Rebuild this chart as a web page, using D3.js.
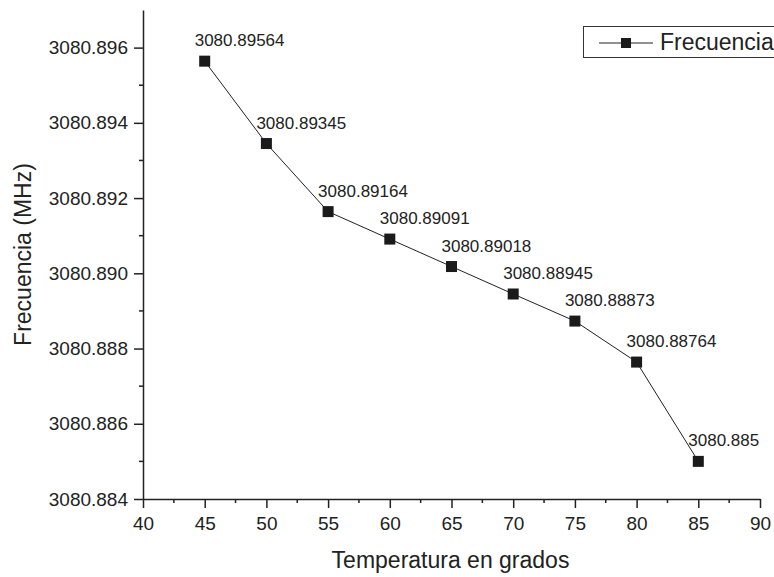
<!DOCTYPE html>
<html>
<head>
<meta charset="utf-8">
<script src="https://cdn.jsdelivr.net/npm/d3@7"></script>
<style>
  body { margin: 0; background: #fff; }
  svg text { font-family: Arial, "Liberation Sans", sans-serif; fill: #222; }
</style>
</head>
<body>
<div id="chart"></div>
<script>
// temperatures (x) and measured frequency (MHz)
var temps = [45, 50, 55, 60, 65, 70, 75, 80, 85];
var freqs = [3080.89564, 3080.89345, 3080.89164, 3080.89091, 3080.89018, 3080.88945, 3080.88873, 3080.88764, 3080.885];
var labels = ['3080.89564', '3080.89345', '3080.89164', '3080.89091', '3080.89018', '3080.88945', '3080.88873', '3080.88764', '3080.885'];
var xTicks = [40, 45, 50, 55, 60, 65, 70, 75, 80, 85, 90];
var yTicks = [3080.884, 3080.886, 3080.888, 3080.890, 3080.892, 3080.894, 3080.896];

var width = 774, height = 577;
var margin = {top: 10, right: 14, bottom: 78, left: 143};

var svg = d3.select('#chart').append('svg')
  .attr('width', width)
  .attr('height', height);

var x = d3.scaleLinear().domain([40, 90]).range([margin.left, width - margin.right]);
var y = d3.scaleLinear().domain([3080.884, 3080.897]).range([height - margin.bottom, margin.top]);

// minor ticks (halfway)
var xMinor = d3.range(42.5, 90, 5);
var yMinor = d3.range(3080.885, 3080.897, 0.002);

// x axis
var gx = svg.append('g').attr('transform', 'translate(0,' + (height - margin.bottom) + ')');
gx.call(d3.axisBottom(x).tickValues(xTicks).tickSize(9).tickSizeOuter(0).tickFormat(d3.format('d')));
gx.selectAll('.tick text').attr('y', 31).attr('dy', null).style('font-size', '19px');
gx.append('g').selectAll('line').data(xMinor).enter().append('line')
  .attr('x1', function(d) { return x(d); }).attr('x2', function(d) { return x(d); })
  .attr('y1', 0).attr('y2', 4).attr('stroke', '#222').attr('stroke-width', 1.5);

// y axis
var gy = svg.append('g').attr('transform', 'translate(' + margin.left + ',0)');
gy.call(d3.axisLeft(y).tickValues(yTicks).tickSize(9).tickSizeOuter(0).tickFormat(d3.format('.3f')));
gy.selectAll('.tick text').attr('x', -15).style('font-size', '19px');
gy.append('g').selectAll('line').data(yMinor).enter().append('line')
  .attr('y1', function(d) { return y(d); }).attr('y2', function(d) { return y(d); })
  .attr('x1', 0).attr('x2', -4).attr('stroke', '#222').attr('stroke-width', 1.5);

svg.selectAll('.domain, .tick line').attr('stroke', '#222').attr('stroke-width', 1.5);

// axis titles
svg.append('text')
  .attr('x', (margin.left + width - margin.right) / 2 - 1)
  .attr('y', 568)
  .attr('text-anchor', 'middle')
  .style('font-size', '23px')
  .text('Temperatura en grados');

svg.append('text')
  .attr('transform', 'translate(31,' + ((margin.top + height - margin.bottom) / 2) + ') rotate(-90)')
  .attr('text-anchor', 'middle')
  .style('font-size', '23px')
  .text('Frecuencia (MHz)');

// line
var line = d3.line()
  .x(function(d, i) { return x(temps[i]); })
  .y(function(d) { return y(d); });

svg.append('path')
  .datum(freqs)
  .attr('d', line)
  .attr('fill', 'none')
  .attr('stroke', '#222')
  .attr('stroke-width', 1);

// markers
var ms = 11;
svg.selectAll('.pt')
  .data(freqs)
  .enter().append('rect')
  .attr('class', 'pt')
  .attr('x', function(d, i) { return x(temps[i]) - ms / 2; })
  .attr('y', function(d) { return y(d) - ms / 2; })
  .attr('width', ms)
  .attr('height', ms)
  .attr('fill', '#1a1a1a');

// data labels
svg.selectAll('.lbl')
  .data(freqs)
  .enter().append('text')
  .attr('class', 'lbl')
  .attr('x', function(d, i) { return x(temps[i]) - 10; })
  .attr('y', function(d) { return y(d) - 15; })
  .style('font-size', '17px')
  .text(function(d, i) { return labels[i]; });

// legend
var legend = svg.append('g');
legend.append('rect')
  .attr('x', 583.5).attr('y', 26.5)
  .attr('width', 220).attr('height', 31)
  .attr('fill', '#fff').attr('stroke', '#333').attr('stroke-width', 1);
legend.append('line')
  .attr('x1', 599).attr('x2', 653).attr('y1', 43).attr('y2', 43)
  .attr('stroke', '#222').attr('stroke-width', 1);
legend.append('rect')
  .attr('x', 621).attr('y', 38).attr('width', 10).attr('height', 10)
  .attr('fill', '#1a1a1a');
legend.append('text')
  .attr('x', 660).attr('y', 50)
  .style('font-size', '23px')
  .text('Frecuencia');
</script>
</body>
</html>
